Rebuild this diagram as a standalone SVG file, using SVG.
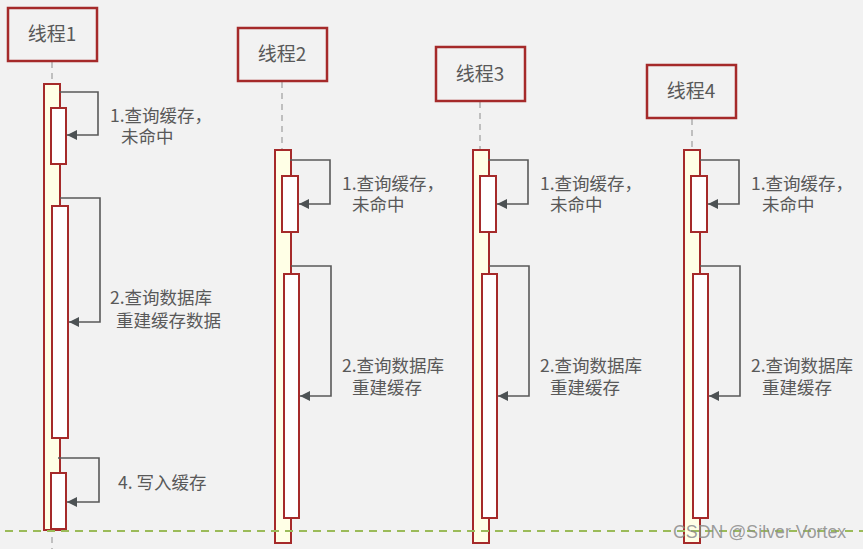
<svg xmlns="http://www.w3.org/2000/svg" width="863" height="549" viewBox="0 0 863 549">
<defs>
<style>
.box{fill:none;stroke:#A52A2A;stroke-width:2.5}
.outer{fill:#FFFFE6;stroke:#A52A2A;stroke-width:2}
.inner{fill:#FFFFFF;stroke:#A52A2A;stroke-width:2}
.life{stroke:#BFBFBF;stroke-width:2;stroke-dasharray:6,5;fill:none}
.msg{fill:none;stroke:#595959;stroke-width:1.6;marker-end:url(#ah)}
.t{font-family:"Noto Sans CJK SC","Noto Sans",sans-serif;fill:#595959}
.title{font-size:19px;text-anchor:middle}
.lbl{font-size:17.5px}
</style>
<marker id="ah" viewBox="0 0 10 10" refX="10" refY="5" markerWidth="10" markerHeight="10" markerUnits="userSpaceOnUse" orient="auto">
<path d="M0,0 L10,5 L0,10 z" fill="#4D5254"/>
</marker>
</defs>
<rect width="863" height="549" fill="#F2F2F2"/>

<g id="thread1">
<line class="life" x1="52" y1="62" x2="52" y2="84"/>
<line class="life" x1="52" y1="537" x2="52" y2="549"/>
<rect class="box" x="8" y="8" width="89" height="53"/>
<text class="t title" x="52" y="41">线程1</text>
<rect class="outer" x="44" y="84" width="16" height="446"/>
<rect class="inner" x="51" y="108" width="15" height="56"/>
<rect class="inner" x="52" y="206" width="16" height="232"/>
<rect class="inner" x="51" y="473" width="15" height="56"/>
<text class="t lbl"><tspan x="110" y="122">1.查询缓存，</tspan><tspan x="121" y="143">未命中</tspan></text>
<text class="t lbl"><tspan x="110" y="304">2.查询数据库</tspan><tspan x="116" y="327">重建缓存数据</tspan></text>
<text class="t lbl" x="118" y="489">4. 写入缓存</text>
</g>

<g id="thread2">
<line class="life" x1="282" y1="82" x2="282" y2="150"/>
<rect class="box" x="238" y="28" width="89" height="53"/>
<text class="t title" x="282" y="61">线程2</text>
<rect class="outer" x="275" y="150" width="16" height="393"/>
<rect class="inner" x="282" y="176" width="16" height="56"/>
<rect class="inner" x="284" y="274" width="15" height="244"/>
<text class="t lbl"><tspan x="342" y="190">1.查询缓存，</tspan><tspan x="352" y="211">未命中</tspan></text>
<text class="t lbl"><tspan x="342" y="372">2.查询数据库</tspan><tspan x="352" y="394">重建缓存</tspan></text>
</g>

<g id="thread3">
<line class="life" x1="480" y1="102" x2="480" y2="150"/>
<rect class="box" x="436" y="47" width="89" height="54"/>
<text class="t title" x="480" y="81">线程3</text>
<rect class="outer" x="473" y="150" width="16" height="393"/>
<rect class="inner" x="480" y="176" width="16" height="56"/>
<rect class="inner" x="482" y="274" width="15" height="244"/>
<text class="t lbl"><tspan x="540" y="190">1.查询缓存，</tspan><tspan x="550" y="211">未命中</tspan></text>
<text class="t lbl"><tspan x="540" y="372">2.查询数据库</tspan><tspan x="550" y="394">重建缓存</tspan></text>
</g>

<g id="thread4">
<line class="life" x1="692" y1="119" x2="692" y2="150"/>
<rect class="box" x="647" y="65" width="89" height="53"/>
<text class="t title" x="691" y="98">线程4</text>
<rect class="outer" x="684" y="150" width="16" height="393"/>
<rect class="inner" x="691" y="176" width="16" height="56"/>
<rect class="inner" x="693" y="274" width="15" height="244"/>
<text class="t lbl"><tspan x="751" y="190">1.查询缓存，</tspan><tspan x="762" y="211">未命中</tspan></text>
<text class="t lbl"><tspan x="751" y="372">2.查询数据库</tspan><tspan x="762" y="394">重建缓存</tspan></text>
</g>

<g id="connectors">
<polyline class="msg" points="59,92 98,92 98,135 67,135"/>
<polyline class="msg" points="60,198 100,198 100,322 69,322"/>
<polyline class="msg" points="58,458 99,458 99,502 67,502"/>
<polyline class="msg" points="290,160 330,160 330,204 299,204"/>
<polyline class="msg" points="291,266 331,266 331,396 300,396"/>
<polyline class="msg" points="488,160 528,160 528,204 497,204"/>
<polyline class="msg" points="489,266 529,266 529,396 498,396"/>
<polyline class="msg" points="700,160 739,160 739,204 708,204"/>
<polyline class="msg" points="700,266 740,266 740,396 709,396"/>
</g>

<line x1="5" y1="531" x2="863" y2="531" stroke="#9BBB59" stroke-width="2" stroke-dasharray="8,6"/>
<text x="673" y="538" font-family="'Liberation Sans',Arial,sans-serif" font-size="17.8" fill="#8C8C8C" fill-opacity="0.85">CSDN @Silver Vortex</text>
</svg>
